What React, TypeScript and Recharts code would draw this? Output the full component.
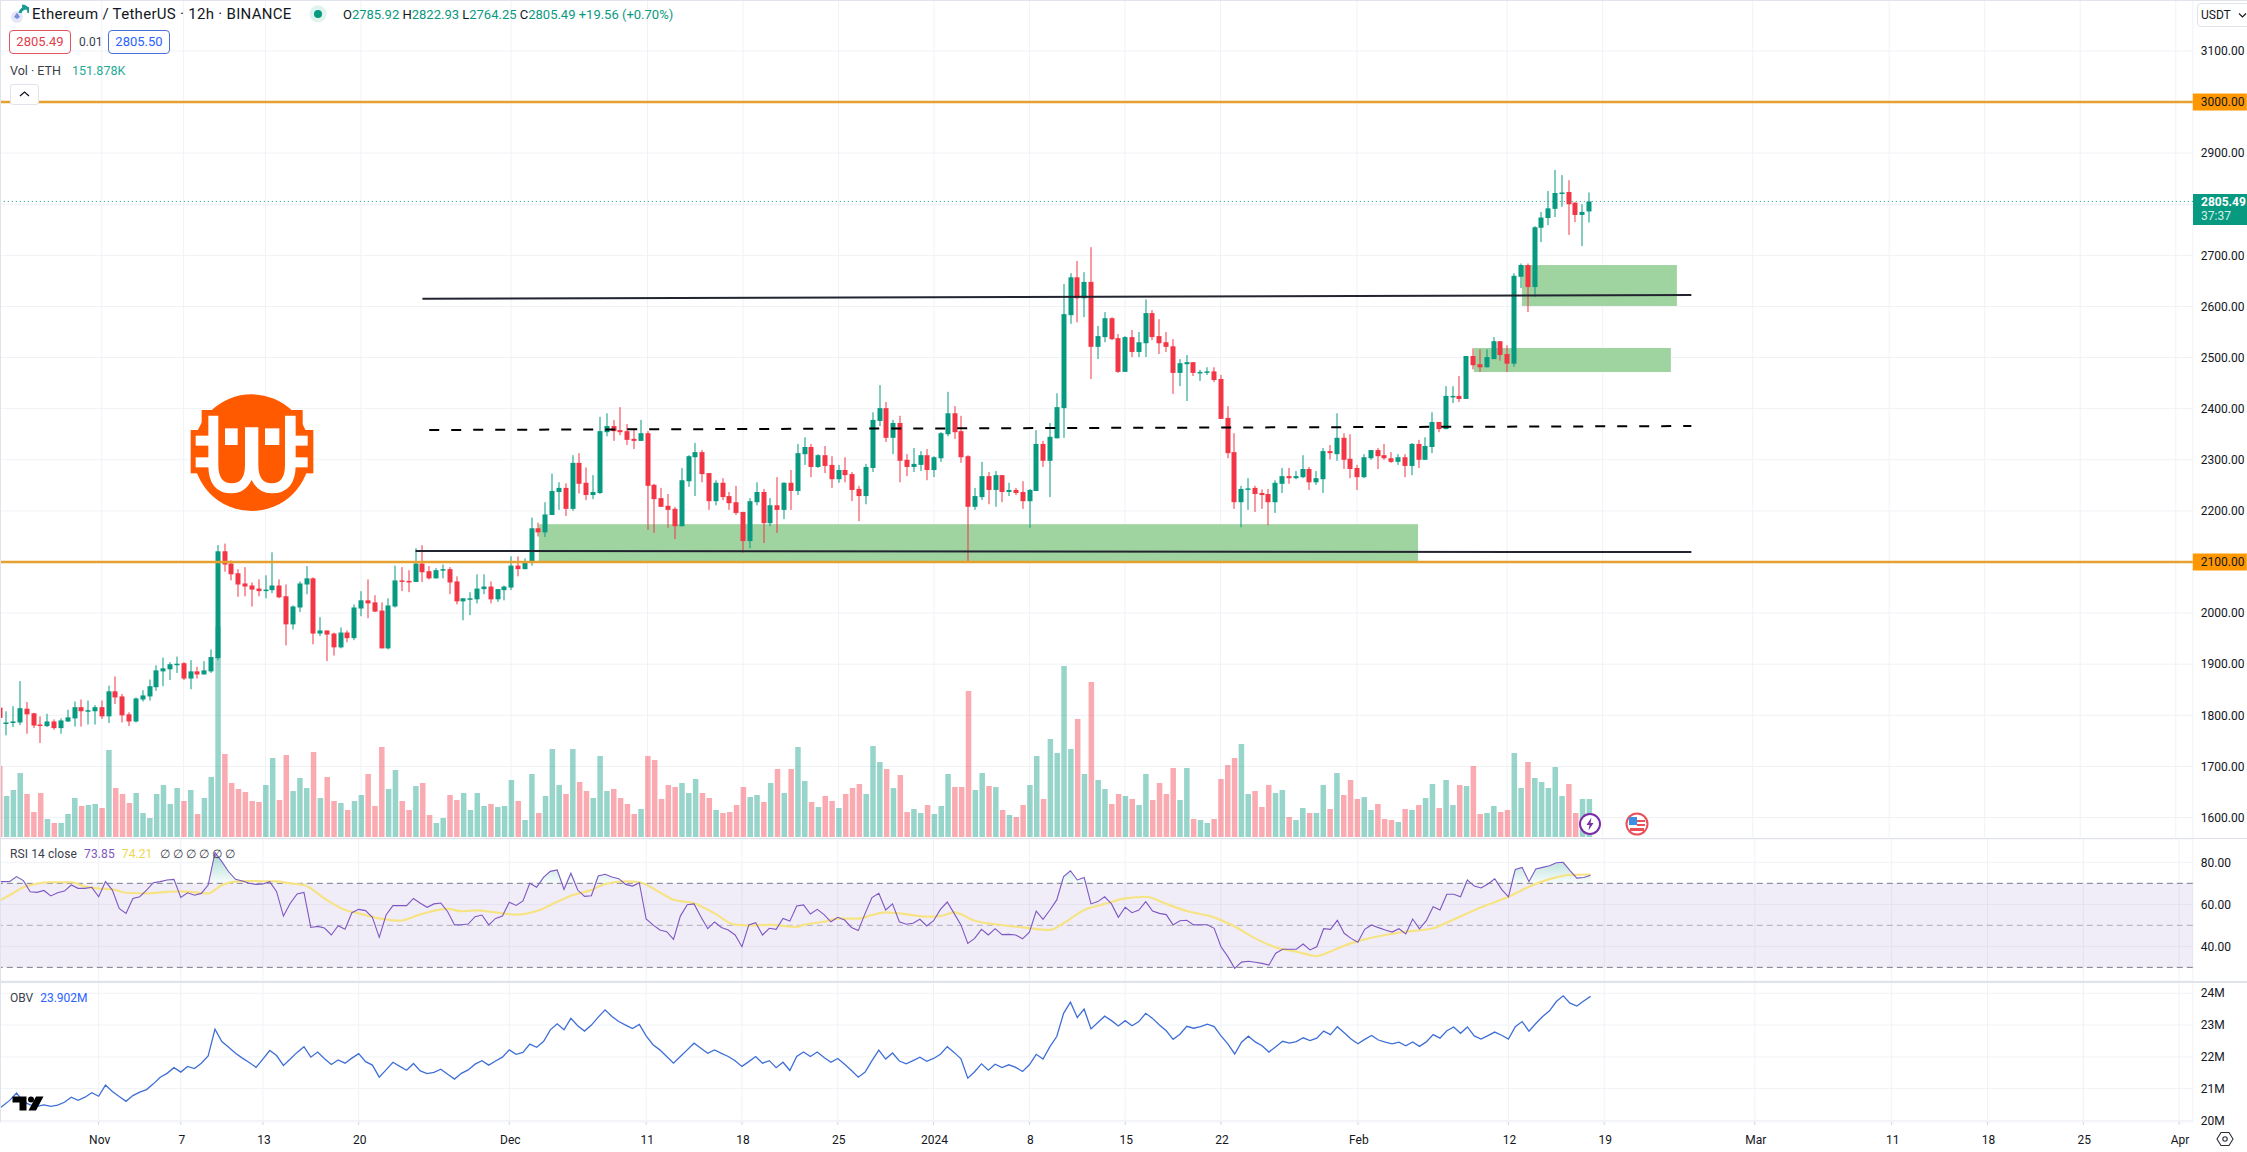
import React from 'react';
import { ComposedChart, Bar, Line, Area, XAxis, YAxis, CartesianGrid, ReferenceLine, ReferenceArea } from 'recharts';

const opens = [
1815,1785,1787,1786,1813,1804,1782,1779,1788,1775,
1788,1794,1816,1809,1808,1816,1798,1847,1837,1802,
1788,1831,1837,1855,1886,1890,1899,1902,1872,1886,
1880,1886,1912,2121,2097,2078,2058,2054,2048,2043,
2045,2054,2033,1978,2011,2056,2068,1960,1966,1960,
1933,1962,1951,2009,2025,2021,2005,1931,2013,2064,
2063,2061,2097,2082,2068,2085,2086,2062,2023,2028,
2027,2047,2052,2027,2045,2050,2093,2086,2099,2166,
2158,2192,2237,2245,2204,2294,2255,2231,2235,2354,
2366,2358,2356,2341,2337,2352,2251,2225,2210,2204,
2170,2258,2305,2315,2274,2219,2255,2229,2217,2198,
2141,2217,2237,2176,2211,2202,2255,2239,2311,2325,
2286,2309,2290,2262,2280,2272,2243,2229,2284,2376,
2401,2343,2372,2300,2286,2290,2309,2280,2303,2350,
2391,2356,2307,2208,2227,2268,2241,2270,2237,2241,
2237,2219,2239,2331,2298,2342,2401,2583,2657,2616,
2648,2521,2540,2577,2538,2472,2540,2511,2528,2587,
2542,2530,2522,2470,2487,2491,2471,2472,2473,2458,
2382,2315,2217,2243,2245,2235,2233,2217,2253,2268,
2264,2266,2282,2256,2262,2317,2311,2343,2302,2284,
2266,2303,2319,2309,2303,2296,2305,2288,2331,2300,
2325,2374,2360,2424,2425,2419,2503,2487,2481,2497,
2532,2507,2488,2658,2681,2638,2754,2773,2791,2822,
2824,2803,2779,2785.92];
const highs = [
1847,1808,1818,1867,1826,1805,1798,1803,1792,1794,
1811,1827,1831,1829,1820,1829,1858,1876,1842,1806,
1835,1849,1870,1898,1913,1904,1915,1904,1908,1895,
1906,1929,2133,2136,2103,2086,2090,2060,2066,2074,
2119,2066,2056,2015,2062,2092,2070,1992,1966,1962,
1972,1966,2017,2043,2066,2035,2021,2029,2093,2090,
2084,2127,2133,2092,2088,2095,2090,2072,2029,2041,
2076,2076,2062,2047,2054,2111,2111,2107,2187,2177,
2217,2273,2256,2254,2309,2313,2285,2270,2384,2391,
2378,2403,2370,2361,2378,2356,2253,2245,2233,2208,
2284,2309,2333,2319,2274,2260,2264,2237,2249,2198,
2225,2256,2243,2225,2266,2256,2280,2331,2344,2331,
2311,2327,2307,2290,2305,2276,2249,2292,2393,2446,
2413,2378,2386,2311,2323,2317,2321,2307,2354,2433,
2405,2386,2309,2245,2296,2276,2278,2270,2255,2245,
2258,2243,2358,2337,2372,2430,2644,2665,2689,2667,
2716,2562,2589,2579,2546,2542,2554,2550,2614,2593,
2575,2550,2536,2497,2505,2491,2476,2481,2481,2466,
2405,2352,2249,2264,2249,2242,2243,2260,2284,2284,
2278,2309,2286,2278,2323,2329,2391,2352,2350,2290,
2311,2319,2323,2331,2315,2311,2311,2333,2339,2344,
2393,2374,2444,2444,2464,2503,2518,2516,2516,2540,
2532,2524,2665,2684,2684,2757,2785,2826,2867,2857,
2847,2804,2800,2822.93];
const lows = [
1785,1761,1777,1781,1764,1775,1746,1777,1772,1764,
1787,1778,1778,1782,1782,1793,1785,1822,1786,1779,
1786,1827,1829,1848,1857,1869,1883,1869,1851,1872,
1880,1883,1908,2081,2064,2032,2033,2013,2033,2029,
2039,2029,1937,1968,2002,2037,1939,1955,1906,1917,
1931,1943,1947,1994,1990,2002,1931,1929,2011,2043,
2041,2061,2061,2066,2068,2068,2037,2017,1986,1996,
2019,2037,2019,2022,2025,2045,2072,2086,2093,2150,
2149,2192,2202,2190,2200,2234,2221,2223,2233,2346,
2337,2348,2329,2321,2337,2163,2157,2208,2167,2145,
2170,2247,2229,2256,2202,2211,2221,2202,2192,2118,
2127,2211,2137,2170,2157,2184,2202,2231,2290,2266,
2284,2274,2245,2255,2256,2219,2180,2213,2276,2366,
2335,2311,2256,2268,2276,2278,2260,2266,2296,2346,
2341,2294,2100,2202,2221,2213,2208,2217,2229,2231,
2204,2167,2239,2286,2227,2342,2343,2566,2569,2579,
2458,2497,2530,2534,2470,2472,2501,2501,2501,2534,
2507,2511,2429,2444,2415,2464,2454,2466,2452,2380,
2303,2204,2168,2202,2198,2204,2172,2196,2235,2253,
2262,2264,2241,2251,2235,2301,2298,2282,2264,2241,
2264,2300,2282,2300,2294,2290,2266,2270,2284,2300,
2313,2354,2360,2411,2413,2419,2477,2472,2481,2497,
2494,2472,2482,2636,2589,2619,2726,2759,2775,2795,
2740,2765,2718,2764.25];
const closes = [
1795,1786,1788,1814,1802,1780,1780,1788,1775,1790,
1796,1816,1808,1810,1816,1798,1847,1835,1800,1788,
1833,1839,1857,1888,1892,1900,1901,1872,1886,1880,
1888,1914,2121,2095,2076,2056,2052,2046,2043,2046,
2054,2031,1978,2013,2058,2068,1960,1966,1958,1933,
1962,1951,2011,2025,2019,2003,1931,2015,2064,2063,
2061,2097,2080,2068,2084,2086,2060,2023,2029,2029,
2048,2052,2027,2047,2052,2093,2086,2099,2166,2158,
2193,2239,2245,2204,2294,2253,2231,2237,2356,2366,
2356,2354,2339,2337,2352,2249,2223,2208,2202,2170,
2260,2307,2315,2272,2219,2255,2227,2215,2196,2141,
2219,2237,2176,2211,2202,2255,2239,2313,2325,2286,
2309,2288,2262,2280,2270,2241,2229,2286,2378,2401,
2343,2372,2298,2286,2292,2309,2280,2305,2352,2391,
2354,2305,2208,2229,2268,2241,2270,2237,2241,2235,
2219,2241,2331,2298,2345,2403,2585,2657,2616,2648,
2521,2542,2577,2536,2472,2540,2511,2530,2587,2540,
2528,2521,2470,2489,2491,2470,2472,2473,2456,2380,
2313,2217,2243,2244,2233,2231,2217,2255,2268,2264,
2268,2282,2256,2264,2317,2313,2343,2300,2282,2266,
2305,2319,2307,2303,2296,2305,2288,2331,2300,2327,
2374,2360,2425,2425,2419,2503,2485,2481,2501,2532,
2505,2488,2660,2681,2638,2755,2774,2792,2822,2823,
2800,2779,2785,2805.49];
const volumesK = [
284,164,188,256,172,100,176,72,56,56,
92,156,124,128,132,116,348,196,172,136,
176,96,76,172,208,132,196,144,188,92,
156,240,841,332,216,192,180,144,140,208,
316,148,328,184,236,196,340,156,240,144,
136,108,144,168,252,124,360,192,268,144,
108,204,216,88,56,76,168,148,176,108,
176,124,132,120,124,228,144,68,252,96,
164,352,208,172,352,220,184,156,324,184,
192,156,132,92,112,324,308,152,208,200,
216,176,232,176,156,108,96,100,128,200,
160,168,140,216,272,176,272,360,224,140,
120,164,144,116,172,196,212,172,364,300,
272,196,248,100,112,96,128,92,124,252,
200,200,584,188,256,204,200,108,88,80,
128,208,324,152,392,336,684,352,472,252,
620,228,192,132,172,164,152,128,252,148,
216,172,276,148,276,72,68,56,72,232,
288,316,372,172,184,120,208,176,188,80,
68,116,96,96,208,112,256,168,228,152,
160,108,132,72,68,60,112,108,128,156,
212,116,228,128,208,204,284,92,96,124,
100,108,336,196,300,236,220,196,280,164,
212,96,152,151.878];
const rsiValues = [
70.8,70.8,70.9,73.2,71.3,66.0,65.7,66.6,64.0,65.5,
66.3,69.2,67.6,67.6,68.1,63.6,70.8,66.8,58.1,55.7,
62.8,63.6,66.8,70.3,70.8,71.6,71.9,63.3,65.5,64.3,
65.2,69.2,84.6,80.3,75.5,71.9,71.1,70.0,69.5,69.7,
70.8,66.0,54.4,60.5,64.9,65.7,49.0,49.5,48.7,45.4,
49.8,48.1,56.0,57.6,57.0,53.8,44.3,54.9,59.4,59.4,
59.4,62.8,60.5,58.6,60.2,60.6,56.5,50.2,50.3,50.6,
54.1,54.9,50.2,53.3,54.4,61.0,59.5,61.6,70.0,68.1,
72.8,75.7,76.4,67.1,74.8,66.8,63.8,64.1,73.5,74.3,
73.0,72.2,69.5,68.7,70.3,53.0,50.2,47.8,47.0,43.3,
54.4,59.8,60.2,54.1,48.4,51.6,49.0,47.8,45.4,39.8,
50.2,51.3,45.4,48.6,48.1,53.3,52.0,59.2,59.7,55.4,
57.6,55.1,51.7,53.8,52.5,49.0,47.5,55.7,63.2,65.2,
57.3,60.2,51.7,50.5,51.0,52.9,49.7,52.2,57.6,61.1,
55.7,50.2,41.4,43.8,48.1,45.4,48.4,45.6,45.7,45.4,
43.6,46.7,56.8,52.9,57.3,62.1,73.2,76.0,71.6,72.8,
60.2,61.3,63.6,60.2,53.8,58.6,56.0,57.3,61.3,56.8,
55.7,55.1,50.2,52.2,52.4,50.2,50.3,50.3,48.6,39.8,
35.1,29.5,32.5,32.9,32.4,31.9,31.1,36.7,38.6,38.6,
38.6,41.1,38.3,39.8,48.4,48.1,52.4,46.2,43.8,41.9,
48.1,50.2,48.9,47.8,46.8,48.4,45.9,53.0,48.3,52.2,
58.9,57.3,64.8,64.8,63.6,71.6,68.7,67.8,69.7,72.2,
67.1,63.6,76.6,77.6,70.8,76.8,77.6,78.4,79.8,80.0,
76.0,72.5,72.8,73.85];
const rsiMaIndex = [0,2,4,6,8,11,13,15,17,19,22,25,27,31,33,35,37,41,43,45,48,51,53,56,59,62,66,68,70,73,76,79,82,84,87,89,92,94,97,99,102,105,108,110,113,117,118,121,123,126,128,130,132,136,138,140,143,146,150,154,156,159,162,165,168,171,174,178,181,184,187,190,193,195,197,200,203,206,210,213,217,221,224,227,230,233];
const rsiMaValues = [60.8,64.4,68.1,69.8,70.5,70.5,68.4,67.5,67.1,65.5,65.2,65.9,66.2,65.2,69.2,70.8,71.1,70.9,70,69.2,62.8,57.3,55.7,53.3,52.2,55.2,57.8,56.7,57.1,56.2,55.1,56.8,61.2,64.1,66.8,69.7,70.9,70.5,65.7,62.2,60.5,55.7,50.3,50,50.2,49.2,50.2,51.7,53.2,53.2,54.9,56.2,55.7,54.1,54.4,56.2,52.2,50.5,49,47.8,51,57.3,60.2,62.8,63.6,60.2,56.8,53.8,49.4,43.8,39.5,37.5,35.4,37.5,40.3,43.3,45.4,47,48.6,52.8,58.6,63.6,68.4,72,74,74.21];
const obvValues = [
20.30,20.46,20.63,20.86,20.59,20.49,20.44,20.49,20.44,20.48,
20.57,20.73,20.63,20.73,20.87,20.76,21.11,20.91,20.75,20.60,
20.78,20.89,20.97,21.15,21.36,21.48,21.66,21.52,21.70,21.63,
21.80,22.03,22.87,22.48,22.30,22.11,21.96,21.82,21.67,21.93,
22.20,22.04,21.73,21.93,22.14,22.32,21.99,22.15,21.94,21.76,
21.90,21.80,21.96,22.10,21.85,21.74,21.36,21.59,21.83,21.70,
21.58,21.79,21.56,21.47,21.51,21.61,21.45,21.30,21.48,21.59,
21.77,21.88,21.74,21.87,21.99,22.22,22.08,22.14,22.40,22.30,
22.48,22.85,23.04,22.85,23.21,22.98,22.81,23.00,23.25,23.48,
23.27,23.11,23.00,22.89,23.02,22.66,22.38,22.22,22.01,21.80,
22.01,22.22,22.43,22.27,22.11,22.22,22.11,22.01,21.88,21.70,
21.85,22.01,21.80,21.88,21.66,21.83,21.57,22.01,22.15,22.01,
22.15,21.98,21.83,21.95,21.77,21.57,21.36,21.52,21.88,22.21,
21.93,22.12,21.87,21.78,21.88,21.99,21.86,21.95,22.08,22.32,
22.14,21.94,21.33,21.53,21.78,21.58,21.77,21.66,21.75,21.67,
21.54,21.75,22.08,21.93,22.32,22.64,23.37,23.72,23.24,23.50,
22.88,23.08,23.28,23.14,22.97,23.14,22.98,23.11,23.37,23.21,
23.00,22.82,22.55,22.71,22.96,22.90,22.95,23.03,22.95,22.66,
22.41,22.09,22.46,22.65,22.47,22.35,22.15,22.32,22.49,22.43,
22.48,22.60,22.51,22.59,22.81,22.70,22.95,22.76,22.56,22.41,
22.55,22.67,22.53,22.46,22.41,22.46,22.35,22.47,22.33,22.47,
22.70,22.59,22.82,22.94,22.74,22.94,22.66,22.56,22.67,22.78,
22.68,22.56,22.95,23.11,22.81,23.05,23.27,23.45,23.74,23.92,
23.69,23.60,23.76,23.902];

const tickDates = ['2023-11-01T00','2023-11-07T00','2023-11-13T00','2023-11-20T00','2023-12-01T00','2023-12-11T00','2023-12-18T00','2023-12-25T00','2024-01-01T00','2024-01-08T00','2024-01-15T00','2024-01-22T00','2024-02-01T00','2024-02-12T00','2024-02-19T00','2024-03-01T00','2024-03-11T00','2024-03-18T00','2024-03-25T00','2024-04-01T00'];
const tickLabels = ['Nov','7','13','20','Dec','11','18','25','2024','8','15','22','Feb','12','19','Mar','11','18','25','Apr'];
const priceTicks = [1600,1700,1800,1900,2000,2100,2200,2300,2400,2500,2600,2700,2900,3000,3100];
const priceGrid = [1600,1700,1800,1900,2000,2100,2200,2300,2400,2500,2600,2700,2800,2900,3000,3100];
const rsiTicks = [40,60,80];
const obvTicks = [20,21,22,23,24];
const lastPrice = 2805.49;
const levels = [3000,2100];

const SLOTS = 322;
const slotIds: string[] = [];
for (let i = 0; i < SLOTS; i++) slotIds.push(new Date(Date.UTC(2023, 9, 24, 12) + i * 43200000).toISOString().slice(0, 13));

const priceRows = slotIds.map((d, i) => i < opens.length ? { d, o: opens[i], h: highs[i], l: lows[i], c: closes[i], v: volumesK[i] } : { d });
const rsiRows = slotIds.map((d, i) => {
  const mi = rsiMaIndex.indexOf(i);
  return i < rsiValues.length ? { d, r: rsiValues[i], m: mi >= 0 ? rsiMaValues[mi] : null, ob: [70, Math.max(70, rsiValues[i])] } : { d };
});
const obvRows = slotIds.map((d, i) => i < obvValues.length ? { d, b: obvValues[i] } : { d });

const GREEN = '#089981';
const RED = '#F23645';
const GRID = '#f0f2f6';
const TXT = '#131722';
const FONT = 'Roboto, sans-serif';
const W = 2250.8;
const LEFT = -3.8;
const AXIS_X = 2204.8;

function Candle(props: any) {
  const { x, y, width, height, payload } = props;
  if (payload.h == null) return null;
  const cx = Math.round(x + width / 2) ;
  const at = (v: number) => y + ((payload.h - v) / (payload.h - payload.l)) * height;
  const up = payload.c >= payload.o;
  const top = at(Math.max(payload.o, payload.c));
  const bot = at(Math.min(payload.o, payload.c));
  const col = up ? GREEN : RED;
  return (
    <g>
      <rect x={cx - 0.5} y={y} width={1} height={height} fill={col} />
      <rect x={cx - 2.5} y={top} width={5} height={Math.max(1.5, bot - top)} fill={col} />
    </g>
  );
}
function VolBar(props: any) {
  const { x, y, width, height, payload } = props;
  if (payload.h == null) return null;
  return <rect x={x} y={y} width={width} height={height} fill={payload.c >= payload.o ? GREEN : RED} fillOpacity={0.42} />;
}
// Zone edges sit between candle slots: widen the slot-aligned area by a few pixels on each side.
const zoneShape = (growLeft: number, growRight: number) => (props: any) => (
  <rect x={props.x - growLeft} y={props.y} width={props.width + growLeft + growRight} height={props.height} fill="#9fd3a0" />
);
function PriceTick(props: any) {
  const { y, payload } = props;
  const v = payload.value;
  if (levels.includes(v)) {
    return (
      <g>
        <rect x={AXIS_X - 8} y={y - 8.5} width={54} height={17} fill="#FF9800" />
        <text x={AXIS_X} y={y + 4.2} fontSize={12} fontFamily={FONT} fill={TXT}>{v.toFixed(2)}</text>
      </g>
    );
  }
  return <text x={AXIS_X} y={y + 4.2} fontSize={12} fontFamily={FONT} fill={TXT}>{v.toFixed(2)}</text>;
}
function RsiTick(props: any) {
  return <text x={AXIS_X} y={props.y + 4.2} fontSize={12} fontFamily={FONT} fill={TXT}>{props.payload.value.toFixed(2)}</text>;
}
function ObvTick(props: any) {
  return <text x={AXIS_X} y={props.y + 4.2} fontSize={12} fontFamily={FONT} fill={TXT}>{props.payload.value}M</text>;
}
function XTick(props: any) {
  const { x, y, payload } = props;
  const label = tickLabels[tickDates.indexOf(payload.value)];
  return <text x={x + 1} y={y + 17} textAnchor="middle" fontSize={12} fontFamily={FONT} fill={TXT}>{label}</text>;
}

const abs = (left: number, top: number, extra: any = {}) => ({ position: 'absolute' as const, left, top, whiteSpace: 'nowrap' as const, fontFamily: FONT, ...extra });

export default function App() {
  return (
    <div style={{ position: 'absolute', left: 0, top: 0, width: 2247, height: 1152, overflow: 'hidden', background: '#fff' }}>
      <div style={{ position: 'absolute', left: LEFT, top: 0 }}>
        <ComposedChart width={W} height={838} data={priceRows} margin={{ top: 0, right: 0, bottom: 0, left: 0 }} barCategoryGap={0}>
          <XAxis xAxisId="p" dataKey="d" hide ticks={tickDates} interval={0} />
          <XAxis xAxisId="v" dataKey="d" hide ticks={tickDates} interval={0} />
          <YAxis yAxisId="price" orientation="right" width={54} domain={[1560, 3199.6]} ticks={priceTicks} interval={0} axisLine={false} tickLine={false} tick={<PriceTick />} />
          <YAxis yAxisId="vol" hide domain={[-4, 3348]} />
          <CartesianGrid xAxisId="p" yAxisId="price" stroke={GRID} horizontalValues={priceGrid} />
          <ReferenceArea xAxisId="p" yAxisId="price" x1={slotIds[80]} x2={slotIds[207]} y1={2100} y2={2174} shape={zoneShape(3, 3)} />
          <ReferenceArea xAxisId="p" yAxisId="price" x1={slotIds[217]} x2={slotIds[244]} y1={2471.7} y2={2518.7} shape={zoneShape(2.6, 3.4)} />
          <ReferenceArea xAxisId="p" yAxisId="price" x1={slotIds[224]} x2={slotIds[245]} y1={2601} y2={2681} shape={zoneShape(2.3, 2.6)} />
          <ReferenceLine xAxisId="p" yAxisId="price" y={3000} stroke="#e5a02f" strokeWidth={2.4} />
          <ReferenceLine xAxisId="p" yAxisId="price" y={2100} stroke="#e5a02f" strokeWidth={2.4} />
          <ReferenceLine xAxisId="p" yAxisId="price" y={lastPrice} stroke={GREEN} strokeDasharray="1 3" />
          <Bar xAxisId="v" yAxisId="vol" dataKey="v" isAnimationActive={false} shape={<VolBar />} barSize={5.5} />
          <Bar xAxisId="p" yAxisId="price" dataKey={(r: any) => (r.h == null ? null : [r.l, r.h])} isAnimationActive={false} shape={<Candle />} barSize={5} />
          <ReferenceLine xAxisId="p" yAxisId="price" segment={[{ x: slotIds[61], y: 2121.6 }, { x: slotIds[248], y: 2119.4 }]} stroke="#22252f" strokeWidth={2} />
          <ReferenceLine xAxisId="p" yAxisId="price" segment={[{ x: slotIds[62], y: 2615 }, { x: slotIds[248], y: 2622.4 }]} stroke="#22252f" strokeWidth={2} />
          <ReferenceLine xAxisId="p" yAxisId="price" segment={[{ x: slotIds[63], y: 2358.3 }, { x: slotIds[248], y: 2366 }]} stroke="#000" strokeWidth={2} strokeDasharray="10 12" />
        </ComposedChart>
      </div>

      <div style={{ position: 'absolute', left: LEFT, top: 839 }}>
        <ComposedChart width={W} height={142} data={rsiRows} margin={{ top: 0, right: 0, bottom: 0, left: 0 }}>
          <defs>
            <linearGradient id="obFill" x1="0" y1="0" x2="0" y2="1">
              <stop offset="0" stopColor={GREEN} stopOpacity={0.35} />
              <stop offset="1" stopColor={GREEN} stopOpacity={0.03} />
            </linearGradient>
          </defs>
          <XAxis dataKey="d" hide ticks={tickDates} interval={0} />
          <YAxis orientation="right" width={54} domain={[23.5, 91.1]} ticks={rsiTicks} interval={0} axisLine={false} tickLine={false} tick={<RsiTick />} />
          <ReferenceArea y1={30} y2={70} fill="#7E57C2" fillOpacity={0.11} stroke="none" />
          <CartesianGrid stroke={GRID} />
          <ReferenceLine y={70} stroke="#787B86" strokeDasharray="6 4" />
          <ReferenceLine y={50} stroke="#787B86" strokeOpacity={0.55} strokeDasharray="6 4" />
          <ReferenceLine y={30} stroke="#787B86" strokeDasharray="6 4" />
          <Area dataKey="ob" stroke="none" fill="url(#obFill)" fillOpacity={1} isAnimationActive={false} dot={false} activeDot={false} />
          <Line dataKey="m" stroke="#f6e384" strokeWidth={2.2} dot={false} activeDot={false} connectNulls type="monotone" isAnimationActive={false} />
          <Line dataKey="r" stroke="#7E57C2" strokeWidth={1.1} dot={false} activeDot={false} isAnimationActive={false} />
        </ComposedChart>
      </div>

      <div style={{ position: 'absolute', left: LEFT, top: 982 }}>
        <ComposedChart width={W} height={170} data={obvRows} margin={{ top: 0, right: 0, bottom: 0, left: 0 }}>
          <XAxis dataKey="d" height={30} ticks={tickDates} interval={0} axisLine={false} tickLine={{ stroke: '#d5d8e0' }} tickSize={3} tick={<XTick />} minTickGap={0} />
          <YAxis orientation="right" width={54} domain={[19.95, 24.355]} ticks={obvTicks} interval={0} axisLine={false} tickLine={false} tick={<ObvTick />} />
          <CartesianGrid stroke={GRID} />
          <Line dataKey="b" stroke="#3f6fd6" strokeWidth={1.3} dot={false} activeDot={false} isAnimationActive={false} />
        </ComposedChart>
      </div>

      {/* pane borders */}
      <div style={abs(0, 838, { width: 2247, height: 1, background: '#e0e3eb' })} />
      <div style={abs(0, 981, { width: 2247, height: 1.5, background: '#e0e3eb' })} />
      <div style={abs(0, 0, { width: 2247, height: 1, background: '#e0e3eb' })} />
      <div style={abs(0, 0, { width: 1, height: 1122, background: '#e0e3eb' })} />

      {/* current price tag */}
      <div style={abs(2193, 194, { width: 54, height: 31, background: GREEN })} />
      <div style={abs(2201, 195, { fontSize: 12, fontWeight: 700, color: '#fff', lineHeight: '14px' })}>2805.49</div>
      <div style={abs(2201, 209, { fontSize: 12, color: '#d5f0ea', lineHeight: '14px' })}>37:37</div>

      {/* USDT button */}
      <div style={abs(2197, 3, { width: 60, height: 24, border: '1px solid #e0e3eb', borderRadius: 4, boxSizing: 'border-box' })} />
      <div style={abs(2201, 8, { fontSize: 12, color: TXT, lineHeight: '14px' })}>USDT</div>
      <svg style={abs(2238, 12)} width={9} height={7}><path d="M1 1.5 L4.5 5 L8 1.5" stroke={TXT} strokeWidth={1.1} fill="none" /></svg>

      {/* title legend */}
      <svg style={abs(9, 3)} width={20} height={22} viewBox="0 0 20 22">
        <circle cx={8} cy={14} r={6} fill="#e6e6f6" />
        <path d="M8 9.5 L11 14 L8 16 L5 14 Z" fill="#7a8ee0" />
        <path d="M11 10 A6 6 0 0 1 20 6 M13 3 A7 7 0 0 1 20 10" stroke="#1a9a94" strokeWidth={3} fill="none" />
      </svg>
      <div style={abs(32, 6, { fontSize: 15, color: TXT, lineHeight: '17px', letterSpacing: 0.3 })}>Ethereum / TetherUS · 12h · BINANCE</div>
      <svg style={abs(309, 5)} width={18} height={18}><circle cx={9} cy={9} r={8.5} fill="#dff3ef" /><circle cx={9} cy={9} r={4} fill={GREEN} /></svg>
      <div style={abs(343, 6, { fontSize: 13, lineHeight: '17px', color: GREEN })}>
        <span style={{ color: TXT }}>O</span>2785.92 <span style={{ color: TXT }}>H</span>2822.93 <span style={{ color: TXT }}>L</span>2764.25 <span style={{ color: TXT }}>C</span>2805.49 +19.56 (+0.70%)
      </div>
      <div style={abs(9, 30, { width: 62, height: 24, boxSizing: 'border-box', border: '1px solid #e0555f', borderRadius: 4, color: '#e0404c', fontSize: 13, lineHeight: '22px', textAlign: 'center' })}>2805.49</div>
      <div style={abs(79, 34, { fontSize: 12, color: '#3a3e4a', lineHeight: '16px' })}>0.01</div>
      <div style={abs(108, 30, { width: 62, height: 24, boxSizing: 'border-box', border: '1px solid #4a6fd8', borderRadius: 4, color: '#2962FF', fontSize: 13, lineHeight: '22px', textAlign: 'center' })}>2805.50</div>
      <div style={abs(10, 63, { fontSize: 12.5, color: '#3a3e4a', lineHeight: '16px' })}>Vol · ETH</div>
      <div style={abs(72, 63, { fontSize: 12.5, color: '#22ab94', lineHeight: '16px' })}>151.878K</div>
      <div style={abs(10, 84, { width: 29, height: 21, boxSizing: 'border-box', background: '#fff', border: '1px solid #e0e3eb', borderRadius: 3 })} />
      <svg style={abs(18, 90)} width={13} height={8}><path d="M2 6 L6.5 2 L11 6" stroke={TXT} strokeWidth={1.3} fill="none" /></svg>

      {/* RSI and OBV legends */}
      <div style={abs(10, 847, { fontSize: 12, lineHeight: '15px', color: '#3a3e4a', letterSpacing: 0.1 })}>
        RSI 14 close <span style={{ color: '#7E57C2', marginLeft: 4 }}>73.85</span> <span style={{ color: '#efd64f', marginLeft: 4 }}>74.21</span> <span style={{ marginLeft: 4 }}>∅ ∅ ∅ ∅ ∅ ∅</span>
      </div>
      <div style={abs(10, 991, { fontSize: 12, lineHeight: '15px', color: '#3a3e4a' })}>
        OBV <span style={{ color: '#2962FF', marginLeft: 4 }}>23.902M</span>
      </div>

      {/* logo */}
      <svg style={abs(150, 370)} width={220} height={170} viewBox="0 0 660 510">
        <circle cx={305} cy={248} r={175} fill="#FF5A00" />
        <rect x={155} y={120} width={303} height={60} fill="#FF5A00" />
        <rect x={122} y={180} width={368} height={130} fill="#FF5A00" />
        <path d="M175 137 H205 V285 Q205 340 245 340 Q285 340 285 285 V172 H325 V285 Q325 340 365 340 Q405 340 405 285 V137 H437 V285 Q437 370 365 370 Q325 370 305 330 Q285 370 245 370 Q175 370 175 285 Z" fill="#fff" />
        <rect x={137} y={197} width={40} height={30} fill="#fff" />
        <rect x={137} y={262} width={40} height={30} fill="#fff" />
        <rect x={435} y={197} width={38} height={30} fill="#fff" />
        <rect x={435} y={262} width={38} height={30} fill="#fff" />
        <rect x={225} y={175} width={38} height={50} fill="#fff" />
        <rect x={345} y={175} width={43} height={50} fill="#fff" />
      </svg>

      {/* TradingView mark */}
      <svg style={abs(12, 1095)} width={32} height={16} viewBox="0 0 32 16">
        <path d="M0.5 1.5 H14.5 V15.5 H7.5 V7.5 H0.5 Z" fill="#000" />
        <circle cx={19} cy={4.5} r={3} fill="#000" />
        <path d="M24 1.5 H31.5 L24 15.5 H16.5 Z" fill="#000" />
      </svg>

      {/* event markers */}
      <svg style={abs(1578, 812)} width={24} height={24}>
        <circle cx={12} cy={12} r={10} fill="#fff" stroke="#7b2da8" strokeWidth={2} />
        <path d="M13.5 5.5 L8.5 13 H11.5 L10.5 18.5 L15.5 11 H12.5 Z" fill="#7b2da8" />
      </svg>
      <svg style={abs(1625, 812)} width={24} height={24}>
        <circle cx={12} cy={12} r={10.5} fill="#fff" stroke="#e9505a" strokeWidth={2} />
        <rect x={4} y={5} width={8} height={8} fill="#3d8fe6" />
        <rect x={12} y={8} width={8} height={2} fill="#e9505a" />
        <rect x={12} y={12} width={8} height={2} fill="#e9505a" />
        <rect x={5} y={16} width={14} height={3} fill="#e9505a" />
      </svg>

      {/* settings */}
      <svg style={abs(2216, 1131)} width={18} height={16} viewBox="0 0 18 16">
        <path d="M5 1.5 H13 L17 8 L13 14.5 H5 L1 8 Z" fill="none" stroke="#2a2e39" strokeWidth={1.1} />
        <circle cx={9} cy={8} r={2.2} fill="none" stroke="#2a2e39" strokeWidth={1.1} />
      </svg>
    </div>
  );
}
